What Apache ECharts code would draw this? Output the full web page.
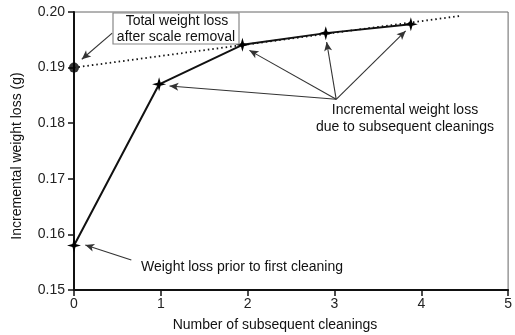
<!DOCTYPE html>
<html>
<head>
<meta charset="utf-8">
<script src="https://cdn.jsdelivr.net/npm/echarts@6/dist/echarts.min.js"></script>
<style>
  html, body { margin: 0; padding: 0; background: #fff; }
  #chart { width: 515px; height: 335px; }
</style>
</head>
<body>
<div id="chart"></div>
<script>
// Cumulative weight loss measured after each cleaning
const cleanings = [0, 0.98, 1.94, 2.9, 3.88];
const weightLoss = [0.158, 0.187, 0.1941, 0.1962, 0.1978];

// Total loss after scale removal and its extrapolated trend
const totalPoint = [0, 0.190];
const trendLine = [[0, 0.190], [4.45, 0.1993]];

// Axis ticks
const xTicks = [0, 1, 2, 3, 4, 5];
const yTicks = [0.15, 0.16, 0.17, 0.18, 0.19, 0.20];

// Annotation arrows: [from, to] in data units
const arrows = [
  [[0.44, 0.1962], [0.09, 0.1915]],
  [[3.02, 0.1843], [1.10, 0.1867]],
  [[3.02, 0.1843], [2.02, 0.1931]],
  [[3.02, 0.1843], [2.91, 0.1946]],
  [[3.02, 0.1843], [3.82, 0.1966]],
  [[0.66, 0.1554], [0.13, 0.1581]]
];

const FONT = 'Liberation Sans, Arial, sans-serif';
const FS = 14;
const star = 'path://M0,-10 L2.2,-2.2 L10,0 L2.2,2.2 L0,10 L-2.2,2.2 L-10,0 L-2.2,-2.2 Z';

const chart = echarts.init(document.getElementById('chart'), null, { renderer: 'canvas' });

function label(text, x, y, align) {
  return {
    type: 'text', x: x, y: y, z: 11,
    style: {
      text: text, font: FS + 'px ' + FONT, fill: '#111',
      textAlign: align || 'center', textVerticalAlign: 'middle'
    }
  };
}

chart.setOption({
  animation: false,
  backgroundColor: '#fff',
  grid: {
    left: 74, right: 1, top: 12, bottom: 45,
    show: true, borderColor: '#666', borderWidth: 1
  },
  xAxis: {
    type: 'value',
    min: xTicks[0], max: xTicks[xTicks.length - 1], interval: 1,
    axisLine: { lineStyle: { color: '#111', width: 2 } },
    axisTick: { inside: false, length: 6, lineStyle: { color: '#111', width: 1.5 } },
    axisLabel: { color: '#222', fontFamily: FONT, fontSize: FS, margin: 7 },
    splitLine: { show: false }
  },
  yAxis: {
    type: 'value',
    min: yTicks[0], max: yTicks[yTicks.length - 1], interval: 0.01,
    axisLine: { lineStyle: { color: '#111', width: 2 } },
    axisTick: { inside: false, length: 6, lineStyle: { color: '#111', width: 1.5 } },
    axisLabel: {
      color: '#222', fontFamily: FONT, fontSize: FS, margin: 9,
      formatter: v => v.toFixed(2)
    },
    splitLine: { show: false }
  },
  series: [
    {
      name: 'trend',
      type: 'line',
      data: trendLine,
      symbol: 'none',
      lineStyle: { color: '#111', width: 1.8, type: [1.5, 3] },
      z: 2
    },
    {
      name: 'cleanings',
      type: 'line',
      data: cleanings.map((c, i) => [c, weightLoss[i]]),
      symbol: star,
      symbolSize: 14,
      itemStyle: { color: '#000' },
      lineStyle: { color: '#111', width: 2 },
      z: 3,
      markLine: {
        silent: true,
        symbol: ['none', 'arrow'],
        symbolSize: [6, 9],
        label: { show: false },
        lineStyle: { color: '#333', width: 1.1, type: 'solid' },
        data: arrows.map(a => [{ coord: a[0] }, { coord: a[1] }])
      }
    },
    {
      name: 'total',
      type: 'scatter',
      data: [totalPoint],
      symbol: 'circle',
      symbolSize: 10,
      itemStyle: { color: '#000' },
      z: 4
    }
  ],
  graphic: [
    {
      type: 'rect',
      shape: { x: 113, y: 13, width: 126, height: 31 },
      style: { fill: '#fff', stroke: '#888', lineWidth: 1.2 },
      z: 10
    },
    label('Total weight loss', 177, 21),
    label('after scale removal', 176, 37),
    label('Incremental weight loss', 405, 110),
    label('due to subsequent cleanings', 405, 127),
    label('Weight loss prior to first cleaning', 141, 267, 'left'),
    label('Number of subsequent cleanings', 275, 325),
    Object.assign(label('Incremental weight loss (g)', 17, 156), { rotation: Math.PI / 2 })
  ]
});
</script>
</body>
</html>
